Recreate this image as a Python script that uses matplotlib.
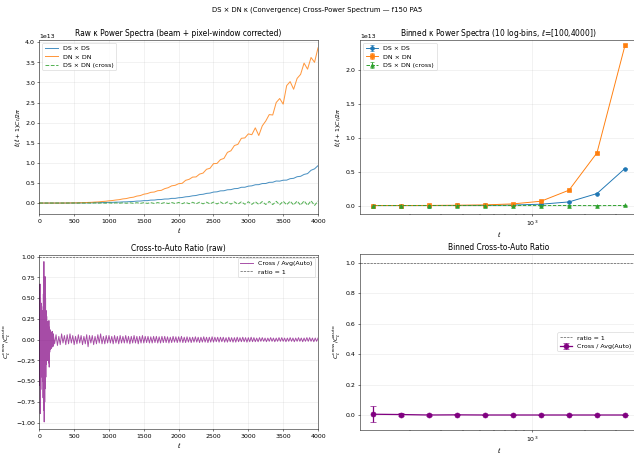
#!/usr/bin/env python3
"""Plot DS x DN convergence power spectra and cross-to-auto ratios."""
import numpy as np
import matplotlib
matplotlib.use("Agg")
import matplotlib.pyplot as plt

# raw spectra, sampled every 50 in ell, in units of 1e13
ell_raw = np.arange(0, 4001, 50)
dl_ds = [0.000, 0.000, 0.000, 0.000, 0.000, 0.000, 0.000, 0.000, 0.001, 0.001,
         0.002, 0.002, 0.003, 0.004, 0.005, 0.006, 0.008, 0.009, 0.011, 0.013,
         0.017, 0.017, 0.022, 0.023, 0.029, 0.030, 0.037, 0.039, 0.048, 0.050,
         0.060, 0.060, 0.073, 0.074, 0.086, 0.088, 0.100, 0.101, 0.116, 0.116,
         0.132, 0.138, 0.155, 0.162, 0.180, 0.188, 0.210, 0.218, 0.240, 0.248,
         0.273, 0.279, 0.303, 0.306, 0.330, 0.334, 0.358, 0.363, 0.392, 0.393,
         0.420, 0.428, 0.455, 0.458, 0.485, 0.486, 0.515, 0.517, 0.548, 0.545,
         0.568, 0.570, 0.606, 0.615, 0.655, 0.665, 0.712, 0.732, 0.815, 0.850,
         0.930]
dl_dn = [0.000, 0.000, 0.000, 0.000, 0.000, 0.000, 0.000, 0.001, 0.002, 0.003,
         0.004, 0.006, 0.008, 0.011, 0.015, 0.018, 0.025, 0.029, 0.038, 0.044,
         0.056, 0.063, 0.076, 0.085, 0.103, 0.112, 0.134, 0.145, 0.173, 0.186,
         0.220, 0.235, 0.266, 0.274, 0.307, 0.315, 0.358, 0.382, 0.428, 0.441,
         0.482, 0.490, 0.565, 0.590, 0.645, 0.650, 0.720, 0.745, 0.840, 0.865,
         0.980, 0.985, 1.080, 1.110, 1.260, 1.300, 1.430, 1.460, 1.610, 1.620,
         1.720, 1.700, 1.870, 1.680, 1.920, 2.040, 2.200, 2.190, 2.500, 2.600,
         2.460, 2.920, 3.020, 2.830, 3.100, 3.200, 3.480, 3.330, 3.620, 3.500,
         3.860]
dl_cross = [0.000, 0.000, 0.000, 0.000, 0.000, 0.000, 0.000, 0.000, 0.000, 0.000,
            0.001, -0.001, 0.002, -0.001, 0.002, -0.002, 0.003, -0.002, 0.003, -0.003,
            0.004, -0.004, 0.005, -0.005, 0.006, -0.005, 0.007, -0.006, 0.008, -0.007,
            0.009, -0.008, 0.010, -0.010, 0.012, -0.011, 0.013, -0.012, 0.014, -0.013,
            0.015, -0.016, 0.017, -0.016, 0.019, -0.018, 0.020, -0.020, 0.022, -0.021,
            0.024, -0.023, 0.026, -0.025, 0.027, -0.027, 0.029, -0.028, 0.031, -0.030,
            0.032, -0.033, 0.034, -0.035, 0.037, -0.036, 0.040, -0.038, 0.042, -0.041,
            0.045, -0.044, 0.047, -0.048, 0.050, -0.052, 0.054, -0.055, 0.057, -0.060,
            0.050]

# raw cross / mean(auto) ratio: dense low-ell part, then every 20
ell_ratio_lo = np.arange(2, 200, 4)
ratio_lo = [0.30, -0.55, 0.67, -0.89, 0.50, -0.60, 0.44, -0.38, 0.40, -0.45,
            0.30, -0.50, 0.35, -0.70, 0.55, -0.85, 0.94, -0.99, 0.70, -0.75,
            0.76, -0.59, 0.50, -0.45, 0.35, -0.30, 0.28, -0.22, 0.22, -0.25,
            0.18, -0.20, 0.20, -0.28, 0.23, -0.33, 0.15, -0.15, 0.12, -0.12,
            0.10, -0.11, 0.09, -0.10, 0.08, -0.09, 0.10, -0.08, 0.07, -0.08]
ell_ratio_hi = np.arange(200, 4001, 20)
ratio_hi = [0.07, -0.05, 0.06, -0.07, 0.04, -0.06, 0.07, -0.04, 0.05, -0.06,
            0.06, -0.05, 0.07, -0.04, 0.05, -0.06, 0.04, -0.05, 0.06, -0.04,
            0.05, -0.06, 0.04, -0.05, 0.06, -0.085, 0.05, -0.04, 0.05, -0.06,
            0.04, -0.05, 0.06, -0.04, 0.07, -0.05, 0.04, -0.05, 0.05, -0.04,
            0.05, -0.04, 0.04, -0.05, 0.05, -0.04, 0.04, -0.05, 0.05, -0.04,
            0.04, -0.04, 0.05, -0.04, 0.04, -0.05, 0.04, -0.04, 0.05, -0.04,
            0.04, -0.05, 0.04, -0.04, 0.05, -0.04, 0.04, -0.035, 0.04, -0.04,
            0.035, -0.04, 0.04, -0.035, 0.04, -0.04, 0.035, -0.04, 0.04, -0.035,
            0.04, -0.035, 0.035, -0.04, 0.03, -0.035, 0.04, -0.03, 0.035, -0.035,
            0.035, -0.03, 0.04, -0.035, 0.03, -0.035, 0.035, -0.03, 0.03, -0.035,
            0.03, -0.03, 0.035, -0.03, 0.03, -0.035, 0.03, -0.03, 0.035, -0.03,
            0.03, -0.035, 0.03, -0.03, 0.035, -0.03, 0.03, -0.025, 0.03, -0.03,
            0.03, -0.025, 0.03, -0.03, 0.025, -0.03, 0.03, -0.025, 0.025, -0.03,
            0.025, -0.03, 0.03, -0.025, 0.025, -0.025, 0.03, -0.025, 0.025, -0.03,
            0.025, -0.025, 0.03, -0.025, 0.025, -0.025, 0.02, -0.025, 0.025, -0.02,
            0.025, -0.02, 0.02, -0.025, 0.02, -0.02, 0.025, -0.02, 0.02, -0.025,
            0.02, -0.02, 0.025, -0.02, 0.025, -0.02, 0.02, -0.025, 0.02, -0.02,
            0.025, -0.02, 0.02, -0.025, 0.02, -0.02, 0.025, -0.02, 0.02, -0.025,
            0.02, -0.02, 0.025, -0.02, 0.025, -0.02, 0.02, -0.025, 0.02, -0.02,
            0.02]

# 10 log bins between ell=100 and 4000 (units of 1e13 for spectra)
ell_bin = [122, 177, 256, 370, 535, 774, 1119, 1618, 2339, 3383]
bin_ds = [0.0001, 0.0002, 0.0005, 0.0012, 0.003, 0.008, 0.020, 0.054, 0.177, 0.547]
bin_ds_err = [0.0001, 0.0001, 0.0001, 0.0002, 0.0003, 0.0005, 0.001, 0.002, 0.004, 0.008]
bin_dn = [0.0005, 0.001, 0.002, 0.005, 0.010, 0.025, 0.064, 0.227, 0.778, 2.363]
bin_dn_err = [0.0001, 0.0002, 0.0003, 0.0005, 0.001, 0.002, 0.003, 0.005, 0.010, 0.02]
bin_cross = [0.0000, 0.0000, 0.0001, 0.0000, -0.0001, 0.0002, -0.0003, 0.0005, -0.0008, 0.0012]
bin_cross_err = [0.0001, 0.0001, 0.0001, 0.0001, 0.0002, 0.0003, 0.0005, 0.001, 0.002, 0.004]
bin_ratio = [0.005, 0.003, 0.000, 0.001, 0.000, 0.000, 0.000, 0.000, 0.000, 0.000]
bin_ratio_err = [0.051, 0.010, 0.004, 0.003, 0.002, 0.002, 0.001, 0.001, 0.001, 0.001]

SCALE = 1e13
DL_LABEL = r"$\ell(\ell+1)C_\ell/2\pi$"
RATIO_LABEL = r"$C_\ell^{\rm cross}/\bar{C}_\ell^{\rm auto}$"


def scaled(values):
    return np.array(values) * SCALE


fig = plt.figure(figsize=(14, 10.03))
ax_raw = fig.add_axes([0.062, 0.5286, 0.4396, 0.3833])
ax_bin = fig.add_axes([0.5678, 0.5286, 0.4377, 0.3833])
ax_rr = fig.add_axes([0.062, 0.055, 0.4396, 0.3833])
ax_br = fig.add_axes([0.5678, 0.053, 0.4377, 0.3877])

# raw spectra
ax_raw.plot(ell_raw, scaled(dl_ds), color="C0", lw=1.6, alpha=0.8, label="DS × DS")
ax_raw.plot(ell_raw, scaled(dl_dn), color="C1", lw=1.6, alpha=0.8, label="DN × DN")
ax_raw.plot(ell_raw, scaled(dl_cross), color="C2", ls="--", lw=1.6, alpha=0.8,
            label="DS × DN (cross)")
ax_raw.set_xlim(0, 4000)
ax_raw.set_ylim(-0.27 * SCALE, 4.06 * SCALE)
ax_raw.set_xlabel(r"$\ell$")
ax_raw.set_ylabel(DL_LABEL)
ax_raw.set_title("Raw κ Power Spectra (beam + pixel-window corrected)")
ax_raw.legend(loc="upper left")
ax_raw.grid(alpha=0.3)

# binned spectra
ax_bin.errorbar(ell_bin, scaled(bin_ds), yerr=scaled(bin_ds_err), fmt="o-",
                color="C0", capsize=3, label="DS × DS")
ax_bin.errorbar(ell_bin, scaled(bin_dn), yerr=scaled(bin_dn_err), fmt="s-",
                color="C1", capsize=3, label="DN × DN")
ax_bin.errorbar(ell_bin, scaled(bin_cross), yerr=scaled(bin_cross_err), fmt="^--",
                color="C2", capsize=3, label="DS × DN (cross)")
ax_bin.set_xscale("log")
ax_bin.set_xlim(103, 3990)
ax_bin.set_ylim(-0.123 * SCALE, 2.447 * SCALE)
ax_bin.set_xlabel(r"$\ell$")
ax_bin.set_ylabel(DL_LABEL)
ax_bin.set_title(r"Binned κ Power Spectra (10 log-bins, $\ell$=[100,4000])")
ax_bin.legend(loc="upper left")
ax_bin.grid(alpha=0.3)

# raw ratio
ell_ratio = np.concatenate([ell_ratio_lo, ell_ratio_hi])
ratio_raw = np.concatenate([ratio_lo, ratio_hi])
ax_rr.plot(ell_ratio, ratio_raw, color="purple", lw=1.5, alpha=0.7,
           label="Cross / Avg(Auto)")
ax_rr.axhline(1.0, color="k", ls="--", lw=1, alpha=0.7, label="ratio = 1")
ax_rr.set_xlim(0, 4000)
ax_rr.set_ylim(-1.075, 1.02)
ax_rr.set_xlabel(r"$\ell$")
ax_rr.set_ylabel(RATIO_LABEL)
ax_rr.set_title("Cross-to-Auto Ratio (raw)")
ax_rr.legend(loc="upper right")
ax_rr.grid(alpha=0.3)

# binned ratio
ax_br.errorbar(ell_bin, bin_ratio, yerr=bin_ratio_err, fmt="o-", color="purple",
               capsize=4, markersize=8, lw=2, label="Cross / Avg(Auto)")
ax_br.axhline(1.0, color="k", ls="--", lw=1, alpha=0.7, label="ratio = 1")
ax_br.set_xscale("log")
ax_br.set_xlim(103, 3990)
ax_br.set_ylim(-0.098, 1.058)
ax_br.set_xlabel(r"$\ell$")
ax_br.set_ylabel(RATIO_LABEL)
ax_br.set_title("Binned Cross-to-Auto Ratio")
ax_br.legend(loc="center right")
ax_br.grid(alpha=0.3)

fig.suptitle("DS × DN κ (Convergence) Cross-Power Spectrum — f150 PA5", fontsize=11, y=0.985)
fig.savefig("out.png", dpi=634 / 14)
